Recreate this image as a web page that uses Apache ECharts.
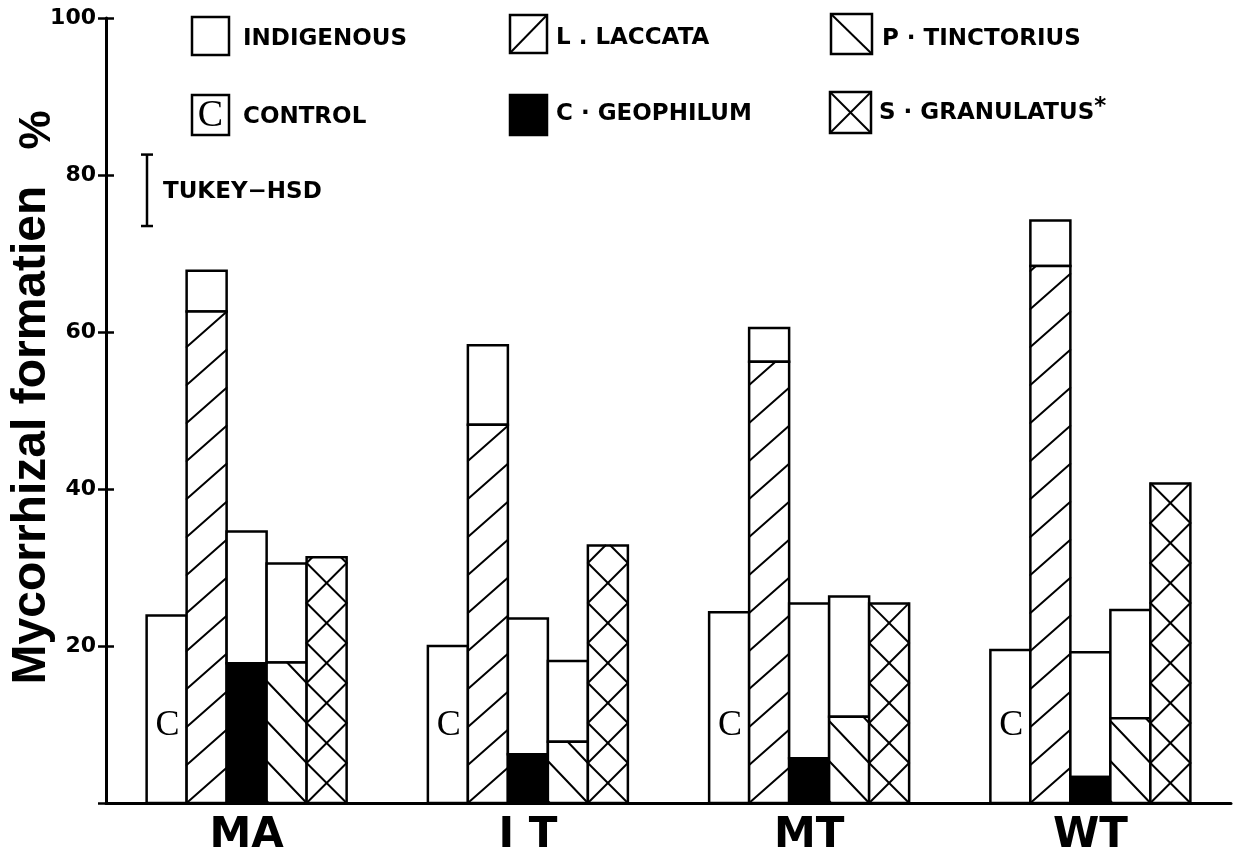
<!DOCTYPE html>
<html>
<head>
<meta charset="utf-8">
<script src="https://cdn.jsdelivr.net/npm/echarts@6/dist/echarts.min.js"></script>
<style>
  html, body { margin: 0; padding: 0; background: #fff; }
  #chart { width: 1257px; height: 857px; }
</style>
</head>
<body>
<div id="chart"></div>
<script>
// Sites (x categories)
const sites = ['MA', 'I T', 'MT', 'WT'];
// Y axis tick labels
const yTickLabels = [20, 40, 60, 80, 100];

// Mycorrhizal formation (%) per treatment and site.
// "...Total" = whole bar (inoculated fungus + indigenous), plain arrays = inoculated part.
const control = [23.9, 20.0, 24.3, 19.5];
const laccataTotal = [67.8, 58.3, 60.5, 74.2];
const laccata = [62.6, 48.2, 56.2, 68.4];
const geophilumTotal = [34.6, 23.5, 25.4, 19.2];
const geophilum = [17.8, 6.2, 5.7, 3.3];
const tinctoriusTotal = [30.5, 18.1, 26.3, 24.6];
const tinctorius = [17.9, 7.8, 11.0, 10.8];
const granulatus = [31.3, 32.8, 25.4, 40.7];

// Tukey-HSD range bar (low, high) on the % scale
const tukeyHsd = [73.5, 82.6];

const INK = '#000';
const BAR_W = 40;
const TICK_FONT = '"DejaVu Sans", sans-serif';
const LEGEND_FONT = 'bold 23px "DejaVu Sans", sans-serif';

// Diagonal hatch segments clipped to a rectangle.
// dir 1 = '/', dir -1 = '\'; lines start at the bottom corner and repeat every `pitch` px.
function hatch(x, y, w, h, dir, pitch, slope, lineWidth) {
  const out = [];
  const bottom = y + h;
  const nMin = -Math.ceil(slope * w / pitch) - 1;
  const nMax = Math.ceil(h / pitch) + 1;
  for (let n = nMin; n <= nMax; n++) {
    const c = bottom - n * pitch;
    const x1 = Math.max(x, x + (c - bottom) / slope);
    const x2 = Math.min(x + w, x + (c - y) / slope);
    if (x2 - x1 < 0.5) continue;
    let ax = x1, bx = x2;
    const ay = c - slope * (x1 - x), by = c - slope * (x2 - x);
    if (dir < 0) { ax = 2 * x + w - x1; bx = 2 * x + w - x2; }
    out.push({
      type: 'line',
      shape: { x1: ax, y1: ay, x2: bx, y2: by },
      style: { stroke: INK, lineWidth: lineWidth, lineCap: 'round' }
    });
  }
  return out;
}

// One stacked bar per site: inoculated part (patterned) below, indigenous part (white) on top.
function treatment(name, slot, totals, inoculated, look) {
  return {
    type: 'custom',
    name: name,
    encode: { x: 0, y: [1, 2] },
    data: sites.map((s, i) => [i, inoculated[i], totals[i]]),
    renderItem: function (params, api) {
      const cat = api.value(0);
      const base = api.coord([cat, 0]);
      const cx = base[0] + (slot - 2) * BAR_W;
      const x = cx - BAR_W / 2;
      const yBase = base[1];
      const yInoc = api.coord([cat, api.value(1)])[1];
      const yTop = api.coord([cat, api.value(2)])[1];
      const kids = [];
      if (yInoc - yTop > 0.5) {
        kids.push({ type: 'rect', shape: { x: x, y: yTop, width: BAR_W, height: yInoc - yTop },
          style: { fill: '#fff', stroke: INK, lineWidth: 2.5 } });
      }
      if (yBase - yInoc > 0.5) {
        const h = yBase - yInoc;
        kids.push({ type: 'rect', shape: { x: x, y: yInoc, width: BAR_W, height: h },
          style: { fill: look.fill || '#fff', stroke: 'none' } });
        (look.hatches || []).forEach(function (hh) {
          hatch(x, yInoc, BAR_W, h, hh.dir, hh.pitch, hh.slope, 2).forEach(function (l) { kids.push(l); });
        });
        kids.push({ type: 'rect', shape: { x: x, y: yInoc, width: BAR_W, height: h },
          style: { fill: 'none', stroke: INK, lineWidth: 2.5 } });
      }
      if (look.letter) {
        kids.push({ type: 'text', x: cx + 1, y: yBase - 77,
          style: { text: look.letter, font: '36px "Liberation Serif", serif', fill: INK,
            align: 'center', verticalAlign: 'middle' } });
      }
      return { type: 'group', children: kids };
    },
    z: 3
  };
}

const zeros = sites.map(() => 0);

const chart = echarts.init(document.getElementById('chart'), null, { renderer: 'canvas' });

chart.setOption({
  backgroundColor: '#fff',
  animation: false,
  grid: { left: 106, right: 26, top: 18, bottom: 51, containLabel: false },
  xAxis: {
    type: 'category',
    data: sites,
    axisLine: { show: true, lineStyle: { color: INK, width: 3 } },
    axisTick: { show: false },
    axisLabel: { color: INK, fontFamily: TICK_FONT, fontWeight: 'bold', fontSize: 42, margin: 12 },
    splitLine: { show: false }
  },
  yAxis: [
    {
      type: 'value', min: 0, max: 100, interval: 20,
      axisLine: { show: true, lineStyle: { color: INK, width: 3 } },
      axisTick: { show: true, length: 8, lineStyle: { color: INK, width: 2.5 } },
      axisLabel: {
        color: INK, fontFamily: TICK_FONT, fontWeight: 'bold', fontSize: 22, margin: 10,
        formatter: function (v) { return yTickLabels.indexOf(v) >= 0 ? String(v) : ''; }
      },
      splitLine: { show: false }
    },
    {
      type: 'value', min: 0, max: 100, interval: 20, position: 'left', offset: 0,
      axisLine: { show: false },
      axisTick: { show: true, inside: true, length: 8, lineStyle: { color: INK, width: 2.5 } },
      axisLabel: { show: false },
      splitLine: { show: false }
    }
  ],
  series: [
    treatment('CONTROL', 0, control, zeros, { letter: 'C' }),
    treatment('L . LACCATA', 1, laccataTotal, laccata, { hatches: [{ dir: 1, pitch: 38, slope: 0.88 }] }),
    treatment('C · GEOPHILUM', 2, geophilumTotal, geophilum, { fill: INK }),
    treatment('P · TINCTORIUS', 3, tinctoriusTotal, tinctorius, { hatches: [{ dir: -1, pitch: 40, slope: 1.05 }] }),
    treatment('S · GRANULATUS', 4, granulatus, granulatus, {
      hatches: [{ dir: 1, pitch: 40, slope: 1.0 }, { dir: -1, pitch: 40, slope: 1.0 }]
    })
  ]
});

// Legend, axis title and Tukey-HSD bar
function box(x, y, w, h, extra) {
  const els = [{ type: 'rect', shape: { x: x, y: y, width: w, height: h },
    style: { fill: (extra && extra.fill) || '#fff', stroke: INK, lineWidth: 2.5 } }];
  ((extra && extra.lines) || []).forEach(function (l) {
    els.push({ type: 'line', shape: l, style: { stroke: INK, lineWidth: 2 } });
  });
  return els;
}
function label(x, y, text, font) {
  return { type: 'text', x: x, y: y,
    style: { text: text, font: font || LEGEND_FONT, fill: INK, align: 'left', verticalAlign: 'middle',
      textAlign: 'left', textVerticalAlign: 'middle' } };
}

const hsdTop = chart.convertToPixel({ yAxisIndex: 0 }, tukeyHsd[1]);
const hsdLow = chart.convertToPixel({ yAxisIndex: 0 }, tukeyHsd[0]);

const g = [];
// row 1
box(192, 17, 37, 38).forEach(e => g.push(e));
g.push(label(243, 39, 'INDIGENOUS'));
box(510, 15, 37, 38, { lines: [{ x1: 510, y1: 53, x2: 547, y2: 15 }] }).forEach(e => g.push(e));
g.push(label(556, 38, 'L . LACCATA'));
box(831, 14, 41, 40, { lines: [{ x1: 831, y1: 14, x2: 872, y2: 54 }] }).forEach(e => g.push(e));
g.push(label(882, 39, 'P · TINCTORIUS'));
// row 2
box(192, 95, 37, 40).forEach(e => g.push(e));
g.push({ type: 'text', x: 210.5, y: 116, style: { text: 'C', font: '38px "Liberation Serif", serif', fill: INK,
  align: 'center', verticalAlign: 'middle', textAlign: 'center', textVerticalAlign: 'middle' } });
g.push(label(243, 117, 'CONTROL'));
box(510, 95, 37, 40, { fill: INK }).forEach(e => g.push(e));
g.push(label(556, 114, 'C · GEOPHILUM'));
box(830, 92, 41, 41, { lines: [{ x1: 830, y1: 92, x2: 871, y2: 133 }, { x1: 830, y1: 133, x2: 871, y2: 92 }] }).forEach(e => g.push(e));
g.push({ type: 'text', x: 879, y: 113, style: {
  text: '{m|S · GRANULATUS}{s|*}', fill: INK, align: 'left', verticalAlign: 'middle',
  textAlign: 'left', textVerticalAlign: 'middle',
  rich: {
    m: { font: LEGEND_FONT, fill: INK },
    s: { font: 'bold 23px "DejaVu Sans", sans-serif', fill: INK, verticalAlign: 'top', padding: [0, 0, 12, 0] }
  }
} });
// Tukey-HSD
g.push({ type: 'line', shape: { x1: 147, y1: hsdTop, x2: 147, y2: hsdLow }, style: { stroke: INK, lineWidth: 2.5 } });
g.push({ type: 'line', shape: { x1: 141, y1: hsdTop, x2: 153, y2: hsdTop }, style: { stroke: INK, lineWidth: 2.5 } });
g.push({ type: 'line', shape: { x1: 141, y1: hsdLow, x2: 153, y2: hsdLow }, style: { stroke: INK, lineWidth: 2.5 } });
g.push(label(163, (hsdTop + hsdLow) / 2 + 2, 'TUKEY−HSD', 'bold 23px "DejaVu Sans", sans-serif'));
// Y axis title
g.push({ type: 'text', x: 32, y: 435, rotation: Math.PI / 2, style: {
  text: 'Mycorrhizal formatien', font: 'bold 48px "Liberation Sans", Arial, sans-serif', fill: INK,
  align: 'center', verticalAlign: 'middle', textAlign: 'center', textVerticalAlign: 'middle' } });
g.push({ type: 'text', x: 38, y: 130, rotation: Math.PI / 2, style: {
  text: '%', font: 'bold 44px "Liberation Sans", Arial, sans-serif', fill: INK,
  align: 'center', verticalAlign: 'middle', textAlign: 'center', textVerticalAlign: 'middle' } });

chart.setOption({ graphic: { elements: g } });
</script>
</body>
</html>
